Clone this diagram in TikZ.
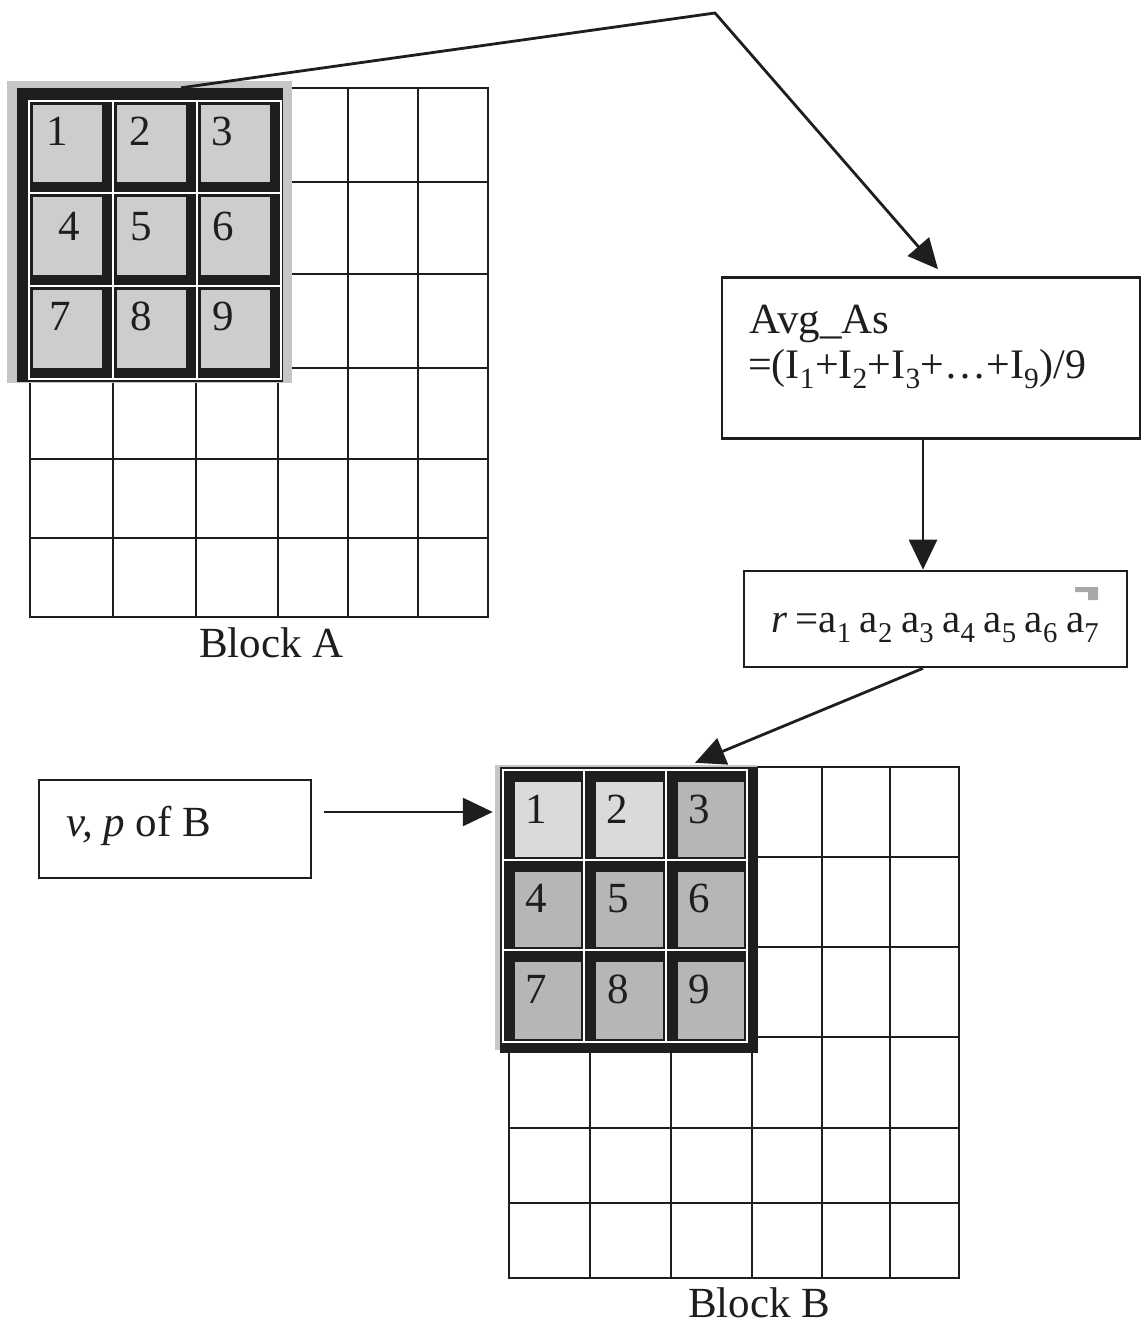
\documentclass[tikz,border=0pt]{standalone}
\usepackage{fontspec}
\setmainfont{Liberation Serif}
\usetikzlibrary{arrows.meta,calc}

\definecolor{ink}{HTML}{1E1E1E}
\definecolor{hlback}{HTML}{C6C6C6}
\definecolor{cellA}{HTML}{CDCDCD}
\definecolor{cellLight}{HTML}{DADADA}
\definecolor{cellDark}{HTML}{B6B6B6}
\definecolor{markgray}{HTML}{A8A8A8}

\begin{document}
\begin{tikzpicture}[x=1pt,y=-1pt,
  gridln/.style={draw=ink, line width=2.4pt, line cap=rect},
  box/.style={draw=ink, line width=2.6pt, inner sep=0pt, fill=white},
  txt/.style={font=\fontsize{43}{50}\selectfont, inner sep=0pt, text=ink},
  arr/.style={draw=ink, line width=2.8pt, -{Triangle[length=30pt,width=28pt]}},
  frame/.style={fill=ink, inner sep=0pt, draw=none},
  sep/.style={draw=white, line width=1.6pt}]

\useasboundingbox (0,0) rectangle (1141,1328);

% ---------------- Block A: 6x6 grid ----------------
\foreach \x in {30,113,196,278,348,418,488}
  \draw[gridln] (\x,88) -- (\x,617);
\foreach \y in {88,182,274,368,459,538,617}
  \draw[gridln] (30,\y) -- (488,\y);

% 3x3 window of Block A
\fill[hlback] (7,81) rectangle (292,383);
\node[frame, minimum width=266pt, minimum height=294pt] (hlA) at (150,235) {};
\draw[sep] (29,101) rectangle (281,379);
\draw[sep] (113,101) -- (113,379) (197,101) -- (197,379)
           (29,193) -- (281,193) (29,286) -- (281,286);
\foreach \xa/\xb in {29/113,113/197,197/281}
  \foreach \ya/\yb in {101/193,193/286,286/379}
    \fill[cellA] (\xa+4,\ya+4) rectangle (\xb-11,\yb-11);
\foreach \n/\x/\y in {1/57.5/145,2/140/145,3/222.5/145,
                      4/69/240,5/141/240,6/223/240,
                      7/60/330,8/141/330,9/223/330}
  \node[txt, anchor=base] (a\n) at (\x,\y) {\n};

\node[txt, anchor=base west] (labA) at (199,657) {Block A};

% ---------------- Block B: 6x6 grid ----------------
\foreach \x in {509,590,671,752,822,890,959}
  \draw[gridln] (\x,767) -- (\x,1278);
\foreach \y in {767,857,947,1037,1128,1203,1278}
  \draw[gridln] (509,\y) -- (959,\y);

% 3x3 window of Block B
\fill[hlback] (495,765) rectangle (757,1050);
\node[frame, minimum width=258pt, minimum height=286pt] (hlB) at (629,910) {};
\draw[sep] (503,770) rectangle (747,1042);
\draw[sep] (584,770) -- (584,1042) (666,770) -- (666,1042)
           (503,860) -- (747,860) (503,950) -- (747,950);
\foreach \xa/\xb/\ya/\yb/\c in {503/584/770/860/cellLight,584/666/770/860/cellLight,
                                666/747/770/860/cellDark,
                                503/584/860/950/cellDark,584/666/860/950/cellDark,
                                666/747/860/950/cellDark,
                                503/584/950/1042/cellDark,584/666/950/1042/cellDark,
                                666/747/950/1042/cellDark}
  \fill[\c] (\xa+12,\ya+12) rectangle (\xb-3,\yb-3);
\foreach \n/\x/\y in {1/536/823,2/617/823,3/699/823,
                      4/536/912,5/618/912,6/699/912,
                      7/536/1003,8/618/1003,9/699/1003}
  \node[txt, anchor=base] (b\n) at (\x,\y) {\n};

\node[txt, anchor=base west] (labB) at (688,1317) {Block B};

% ---------------- process boxes ----------------
\node[box, minimum width=418pt, minimum height=161pt] (avg) at (931,358) {};
\node[txt, anchor=base west] (avg1) at (749,333) {Avg\_As};
\node[txt, font=\fontsize{42}{50}\selectfont, anchor=base west] (avg2) at (748,378)
  {=(I\textsubscript{1}+I\textsubscript{2}+I\textsubscript{3}+\ldots+I\textsubscript{9})/9};

\node[box, minimum width=383pt, minimum height=96pt] (rbox) at (935.5,619) {};
\node[txt, font=\fontsize{41}{48}\selectfont, anchor=base west] (rtxt) at (771,632)
  {\spaceskip=0.2em\relax
   \textit{r} =a\textsubscript{1} a\textsubscript{2} a\textsubscript{3} a\textsubscript{4} a\textsubscript{5} a\textsubscript{6} a\textsubscript{7}};
\fill[markgray] (1075,587) -- (1098,587) -- (1098,600) -- (1088,600)
                -- (1088,592) -- (1075,592) -- cycle;

\node[box, minimum width=272pt, minimum height=98pt] (vp) at (175,829) {};
\node[txt, anchor=base west] (vptxt) at (66,836) {\textit{v, p} of B};

% ---------------- connectors ----------------
\coordinate (bend) at (715,13);
\draw[arr] ([xshift=31pt]hlA.north) -- (bend) -- ([xshift=7pt,yshift=7pt]avg.north);
\draw[arr] ([xshift=-8pt]avg.south) -- ([xshift=-8pt]avg.south |- rbox.north);
\draw[arr] ([xshift=-12.5pt]rbox.south) -- ([xshift=66pt,yshift=4pt]hlB.north);
\coordinate (vpout) at ([xshift=12pt,yshift=17pt]vp.east);
\draw[arr] (vpout) -- ($(hlB.west |- vpout)+(-7pt,0)$);

\end{tikzpicture}
\end{document}
